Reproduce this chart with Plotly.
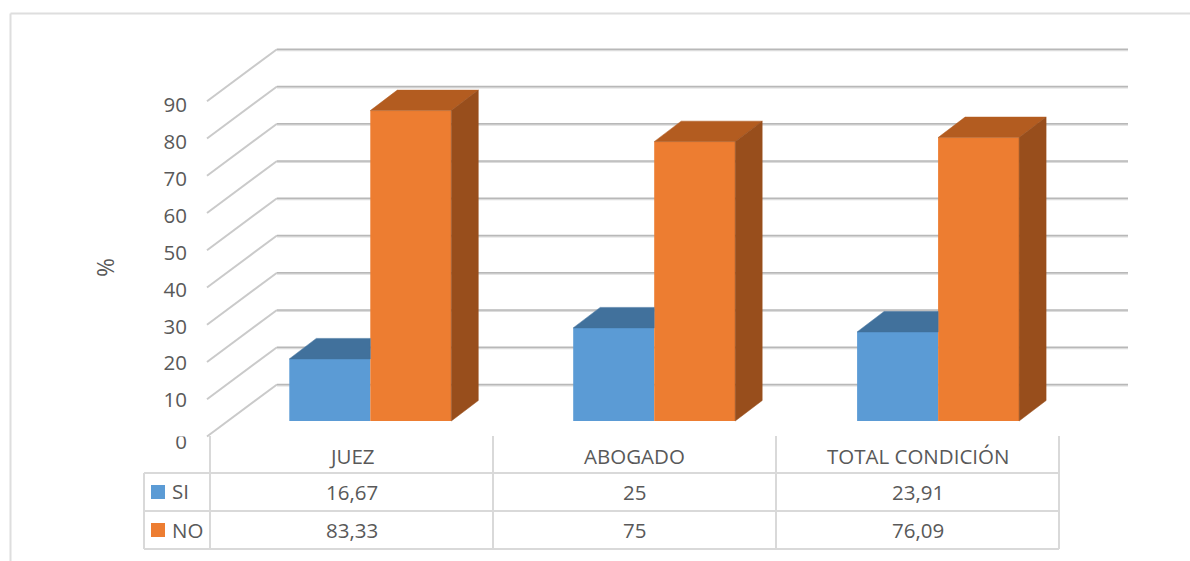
import plotly.graph_objects as go

categories = ["JUEZ", "ABOGADO", "TOTAL CONDICIÓN"]
si_values = [16.67, 25, 23.91]
no_values = [83.33, 75, 76.09]
y_ticks = [0, 10, 20, 30, 40, 50, 60, 70, 80, 90]

W, H = 1190, 561
FONT = "Open Sans"
TXT = "#595959"
LINE = "#d9d9d9"
PX_Y = 3.725      # pixels per percent unit
PX_X = 283.9      # pixels per category
X0, Y0 = 370.3, 421.0  # pixel of category 0 / value 0
FS = 20.5


def dx(px):
    return (px - X0) / PX_X


def dy(py):
    return (Y0 - py) / PX_Y


BAR_W = 81 / PX_X
DEPTH_X = 27 / PX_X
DEPTH_Y = 20.5 / PX_Y
positions = list(range(len(categories)))

fig = go.Figure()


def poly(xs, ys, color):
    fig.add_trace(go.Scatter(x=xs + xs[:1], y=ys + ys[:1], mode="lines", fill="toself",
                             fillcolor=color, line=dict(color=color, width=0.5),
                             hoverinfo="skip", showlegend=False))


fig.add_trace(go.Bar(x=positions, y=si_values, width=BAR_W, offset=-BAR_W, name="SI",
                     marker=dict(color="#5b9bd5", line=dict(width=0)), showlegend=False))
fig.add_trace(go.Bar(x=positions, y=no_values, width=BAR_W, offset=0, name="NO",
                     marker=dict(color="#ed7d31", line=dict(width=0)), showlegend=False))

for p, s, n in zip(positions, si_values, no_values):
    # top of SI, hidden by the NO bar to the right of the shared edge
    poly([p - BAR_W, p - BAR_W + DEPTH_X, p, p], [s, s + DEPTH_Y, s + DEPTH_Y, s], "#41719c")
    # top and side of NO
    poly([p, p + DEPTH_X, p + BAR_W + DEPTH_X, p + BAR_W],
         [n, n + DEPTH_Y, n + DEPTH_Y, n], "#b35c20")
    poly([p + BAR_W, p + BAR_W + DEPTH_X, p + BAR_W + DEPTH_X, p + BAR_W],
         [n, n + DEPTH_Y, DEPTH_Y, 0], "#984e1c")

shapes = []


def seg(x1, y1, x2, y2, color=LINE, width=2, layer="below"):
    shapes.append(dict(type="line", xref="x", yref="y", x0=dx(x1), y0=dy(y1), x1=dx(x2), y1=dy(y2),
                       line=dict(color=color, width=width), layer=layer))


# frame
seg(10.5, 13.5, 1190, 13.5, "#dedede", 2)
seg(10.5, 13.5, 10.5, 561, "#dedede", 2)

# 3-D gridlines: side wall and back wall
for v in y_ticks:
    off = v * PX_Y
    front_y = 436.5 - off
    back_y = 384.5 - off
    seg(207, front_y, 277, back_y, "#cacaca", 2)
    seg(277, back_y + 1, 1128, back_y + 1, "#dcdcdc", 2)
    seg(277, back_y, 1128, back_y, "#b8b8b8", 1.5)

# data table
seg(144, 473, 1059, 473)
seg(144, 511, 1059, 511)
seg(144, 549, 1059, 549)
seg(144, 473, 144, 549)
for xv in [210, 493, 776, 1059]:
    seg(xv, 436, xv, 549)

# cuts the top of the lowest axis label, as in the reference
shapes.append(dict(type="rect", xref="x", yref="y", x0=dx(160), x1=dx(200), y0=dy(425), y1=dy(436.5),
                   fillcolor="white", line=dict(width=0), layer="above"))

# legend keys
for top, col in [(485, "#5b9bd5"), (523, "#ed7d31")]:
    shapes.append(dict(type="rect", xref="x", yref="y", x0=dx(151), x1=dx(165), y0=dy(top), y1=dy(top + 14),
                       fillcolor=col, line=dict(width=0), layer="above"))

annotations = []


def label(x, y, text, anchor="center", angle=0, size=FS):
    annotations.append(dict(x=dx(x), y=dy(y), xref="x", yref="y", text=text, showarrow=False,
                            xanchor=anchor, yanchor="middle", textangle=angle,
                            font=dict(family=FONT, size=size, color=TXT)))


def fmt(v):
    return str(v).replace(".", ",")


centers = [351.5, 634.5, 917.5]
for cx, c, s, n in zip(centers, categories, si_values, no_values):
    label(cx, 456, c)
    label(cx, 492, fmt(s))
    label(cx, 530, fmt(n))
label(170, 491, "SI", "left")
label(170, 530, "NO", "left")
label(105, 268, "%", angle=-90, size=23)


def tick_pos(v):
    # pixel centre of each axis label on the oblique axis; the lowest label sits a little lower
    py = 442 if v == 0 else 105 + (90 - v) * 3.69
    return dy(py)


fig.update_layout(
    width=W, height=H, autosize=False, margin=dict(l=0, r=0, t=0, b=0),
    paper_bgcolor="white", plot_bgcolor="white", barmode="overlay", showlegend=False,
    shapes=shapes, annotations=annotations,
    xaxis=dict(range=[dx(0), dx(W)], visible=False, fixedrange=True),
    yaxis=dict(range=[dy(H), dy(0)], anchor="free", position=187 / W, side="left",
               tickmode="array", tickvals=[tick_pos(v) for v in y_ticks],
               ticktext=[str(v) for v in y_ticks], ticks="", showgrid=False, zeroline=False,
               showline=False, fixedrange=True, tickfont=dict(family=FONT, size=FS, color=TXT)),
)

fig.write_html("out.html", config={"displayModeBar": False},
               post_script="document.body.style.margin='0';document.documentElement.style.overflow='hidden';")
